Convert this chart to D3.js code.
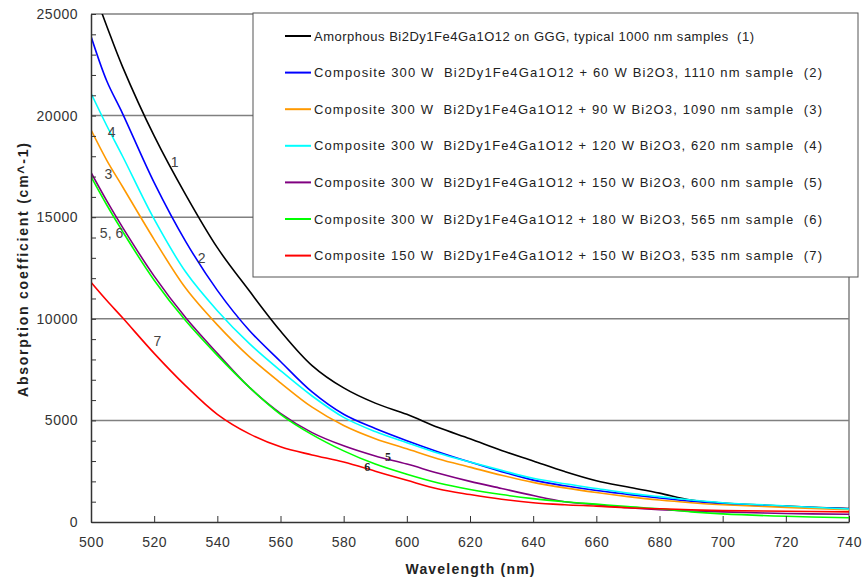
<!DOCTYPE html>
<html>
<head>
<meta charset="utf-8">
<script src="https://cdn.jsdelivr.net/npm/d3@7"></script>
<style>
  body { margin: 0; background: #fff; }
  text { font-family: "Liberation Sans", Arial, sans-serif; }
</style>
</head>
<body>
<div id="chart"></div>
<script>
var vWidth = 864;
var vHeight = 580;
var margin = { top: 14, right: 15, bottom: 58, left: 91 };

var wavelengths = [500, 505, 510, 520, 530, 540, 550, 560, 570, 580, 590, 600, 610, 620, 630, 640, 650, 660, 670, 680, 690, 700, 720, 740];

// absorption coefficient (cm^-1) for each sample
var s1 = [26500, 24400, 22400, 19000, 16100, 13500, 11400, 9400, 7700, 6600, 5850, 5300, 4650, 4100, 3520, 3000, 2480, 2030, 1720, 1420, 1080, 930, 780, 660];
var s2 = [23900, 21700, 20100, 16700, 13800, 11400, 9450, 7900, 6400, 5300, 4600, 4000, 3450, 2950, 2480, 2060, 1780, 1550, 1360, 1180, 1020, 900, 760, 650];
var s3 = [19300, 17800, 16500, 13900, 11500, 9700, 8150, 6850, 5650, 4750, 4100, 3600, 3100, 2700, 2300, 1950, 1680, 1450, 1250, 1080, 950, 850, 720, 600];
var s4 = [21100, 19500, 18000, 14900, 12300, 10400, 8800, 7450, 6200, 5150, 4450, 3900, 3380, 2950, 2540, 2150, 1880, 1650, 1420, 1250, 1080, 950, 790, 640];
var s5 = [17200, 15800, 14500, 12100, 10050, 8300, 6650, 5350, 4400, 3750, 3250, 2850, 2400, 2000, 1650, 1300, 1000, 850, 700, 600, 540, 500, 420, 380];
var s6 = [17000, 15600, 14300, 11900, 9900, 8200, 6650, 5300, 4300, 3500, 2850, 2350, 1920, 1600, 1350, 1150, 1000, 880, 760, 650, 500, 400, 280, 210];
var s7 = [11800, 10900, 10050, 8300, 6700, 5300, 4350, 3700, 3300, 2950, 2500, 2050, 1620, 1350, 1120, 950, 850, 780, 700, 650, 600, 560, 530, 500];

var seriesValues = [s1, s2, s3, s4, s5, s6, s7];
var seriesColors = ["#000000", "#0000ff", "#ff9900", "#00ffff", "#800080", "#00ff00", "#ff0000"];
var seriesNames = [
  "Amorphous Bi2Dy1Fe4Ga1O12 on GGG, typical 1000 nm samples  (1)",
  "Composite 300 W  Bi2Dy1Fe4Ga1O12 + 60 W Bi2O3, 1110 nm sample  (2)",
  "Composite 300 W  Bi2Dy1Fe4Ga1O12 + 90 W Bi2O3, 1090 nm sample  (3)",
  "Composite 300 W  Bi2Dy1Fe4Ga1O12 + 120 W Bi2O3, 620 nm sample  (4)",
  "Composite 300 W  Bi2Dy1Fe4Ga1O12 + 150 W Bi2O3, 600 nm sample  (5)",
  "Composite 300 W  Bi2Dy1Fe4Ga1O12 + 180 W Bi2O3, 565 nm sample  (6)",
  "Composite 150 W  Bi2Dy1Fe4Ga1O12 + 150 W Bi2O3, 535 nm sample  (7)"
];

// curve number labels: [wavelength, value, text]
var curveLabels = [
  [526.5, 17700, "1"], [535, 13000, "2"], [505.5, 17100, "3"], [506.5, 19200, "4"],
  [506.5, 14200, "5, 6"], [521, 8900, "7"]
];
var smallLabels = [[594, 3200, "5"], [587.5, 2700, "6"]];

var xTicks = [500, 520, 540, 560, 580, 600, 620, 640, 660, 680, 700, 720, 740];
var yTicks = [0, 5000, 10000, 15000, 20000, 25000];

var w = vWidth - margin.left - margin.right;
var h = vHeight - margin.top - margin.bottom;

var svg = d3.select("#chart").append("svg")
    .attr("width", vWidth)
    .attr("height", vHeight);

var g = svg.append("g")
    .attr("transform", "translate(" + margin.left + "," + margin.top + ")");

var x = d3.scaleLinear().domain([500, 740]).range([0, w]);
var y = d3.scaleLinear().domain([0, 25000]).range([h, 0]);

// grid lines
g.selectAll(".grid")
  .data(yTicks.slice(1))
  .enter().append("line")
    .attr("x1", 0).attr("x2", w)
    .attr("y1", function (d) { return y(d); })
    .attr("y2", function (d) { return y(d); })
    .style("stroke", "#808080")
    .style("stroke-width", 1.5);

g.append("line")
    .attr("x1", w).attr("x2", w).attr("y1", 0).attr("y2", h)
    .style("stroke", "#808080").style("stroke-width", 1.5);

g.append("defs").append("clipPath").attr("id", "clip")
  .append("rect").attr("width", w).attr("height", h);

var line = d3.line()
    .x(function (d, i) { return x(wavelengths[i]); })
    .y(function (d) { return y(d); })
    .curve(d3.curveCatmullRom.alpha(0.5));

g.append("g").attr("clip-path", "url(#clip)")
  .selectAll("path")
  .data(seriesValues)
  .enter().append("path")
    .attr("d", line)
    .style("fill", "none")
    .style("stroke", function (d, i) { return seriesColors[i]; })
    .style("stroke-width", 1.6);

// axes
var yMinor = d3.range(0, 25001, 1000);
g.append("g")
    .call(d3.axisLeft(y).tickValues(yMinor).tickSize(-5).tickFormat(""))
    .call(function (a) { a.select(".domain").remove(); a.selectAll("line").style("stroke", "#333"); });

var yAxis = g.append("g")
    .call(d3.axisLeft(y).tickValues(yTicks).tickSize(0).tickPadding(13).tickFormat(d3.format("d")));
yAxis.select(".domain").style("stroke", "#333").style("stroke-width", 1.5);
yAxis.selectAll("text").style("font-size", "14px").style("fill", "#333").style("letter-spacing", "0.5px")
    .style("font-family", "'Liberation Sans', Arial, sans-serif");

var xAxis = g.append("g")
    .attr("transform", "translate(0," + h + ")")
    .call(d3.axisBottom(x).tickValues(xTicks).tickSizeInner(-6).tickSizeOuter(0).tickPadding(15));
xAxis.select(".domain").style("stroke", "#333").style("stroke-width", 1.5);
xAxis.selectAll("line").style("stroke", "#333");
xAxis.selectAll("text").style("font-size", "14px").style("fill", "#333").style("letter-spacing", "0.5px")
    .style("font-family", "'Liberation Sans', Arial, sans-serif");

// axis titles
svg.append("text")
    .attr("transform", "translate(28,270) rotate(-90)")
    .attr("text-anchor", "middle")
    .attr("textLength", 254).attr("lengthAdjust", "spacing")
    .style("font-size", "14px").style("font-weight", "bold")
    .style("fill", "#222")
    .text("Absorption coefficient (cm^-1)");

svg.append("text")
    .attr("x", 470).attr("y", 574)
    .attr("text-anchor", "middle")
    .attr("textLength", 129).attr("lengthAdjust", "spacing")
    .style("font-size", "14px").style("font-weight", "bold")
    .style("fill", "#222")
    .text("Wavelength (nm)");

// curve labels
g.selectAll(".clabel")
  .data(curveLabels)
  .enter().append("text")
    .attr("x", function (d) { return x(d[0]); })
    .attr("y", function (d) { return y(d[1]); })
    .attr("dy", "0.35em")
    .attr("text-anchor", "middle")
    .style("font-size", "14px").style("fill", "#444")
    .text(function (d) { return d[2]; });

g.selectAll(".slabel")
  .data(smallLabels)
  .enter().append("text")
    .attr("x", function (d) { return x(d[0]); })
    .attr("y", function (d) { return y(d[1]); })
    .attr("dy", "0.35em")
    .attr("text-anchor", "middle")
    .style("font-family", "'Liberation Serif', 'Times New Roman', serif")
    .style("font-size", "12px").style("font-weight", "bold").style("fill", "#222")
    .text(function (d) { return d[2]; });

// legend
var legend = svg.append("g").attr("transform", "translate(253,13)");
legend.append("rect")
    .attr("width", 605).attr("height", 264)
    .style("fill", "#fff").style("stroke", "#555").style("stroke-width", 1);

var rows = legend.selectAll(".row")
  .data(seriesNames)
  .enter().append("g")
    .attr("transform", function (d, i) { return "translate(0," + (23 + i * 36.6) + ")"; });

rows.append("line")
    .attr("x1", 32).attr("x2", 58)
    .style("stroke", function (d, i) { return seriesColors[i]; })
    .style("stroke-width", 2);

rows.append("text")
    .attr("x", 61).attr("dy", "0.35em")
    .attr("xml:space", "preserve")
    .attr("textLength", function (d, i) { return i === 0 ? 440 : 508; })
    .attr("lengthAdjust", "spacing")
    .style("white-space", "pre")
    .style("font-size", "13px").style("fill", "#222")
    .text(function (d) { return d; });
</script>
</body>
</html>
